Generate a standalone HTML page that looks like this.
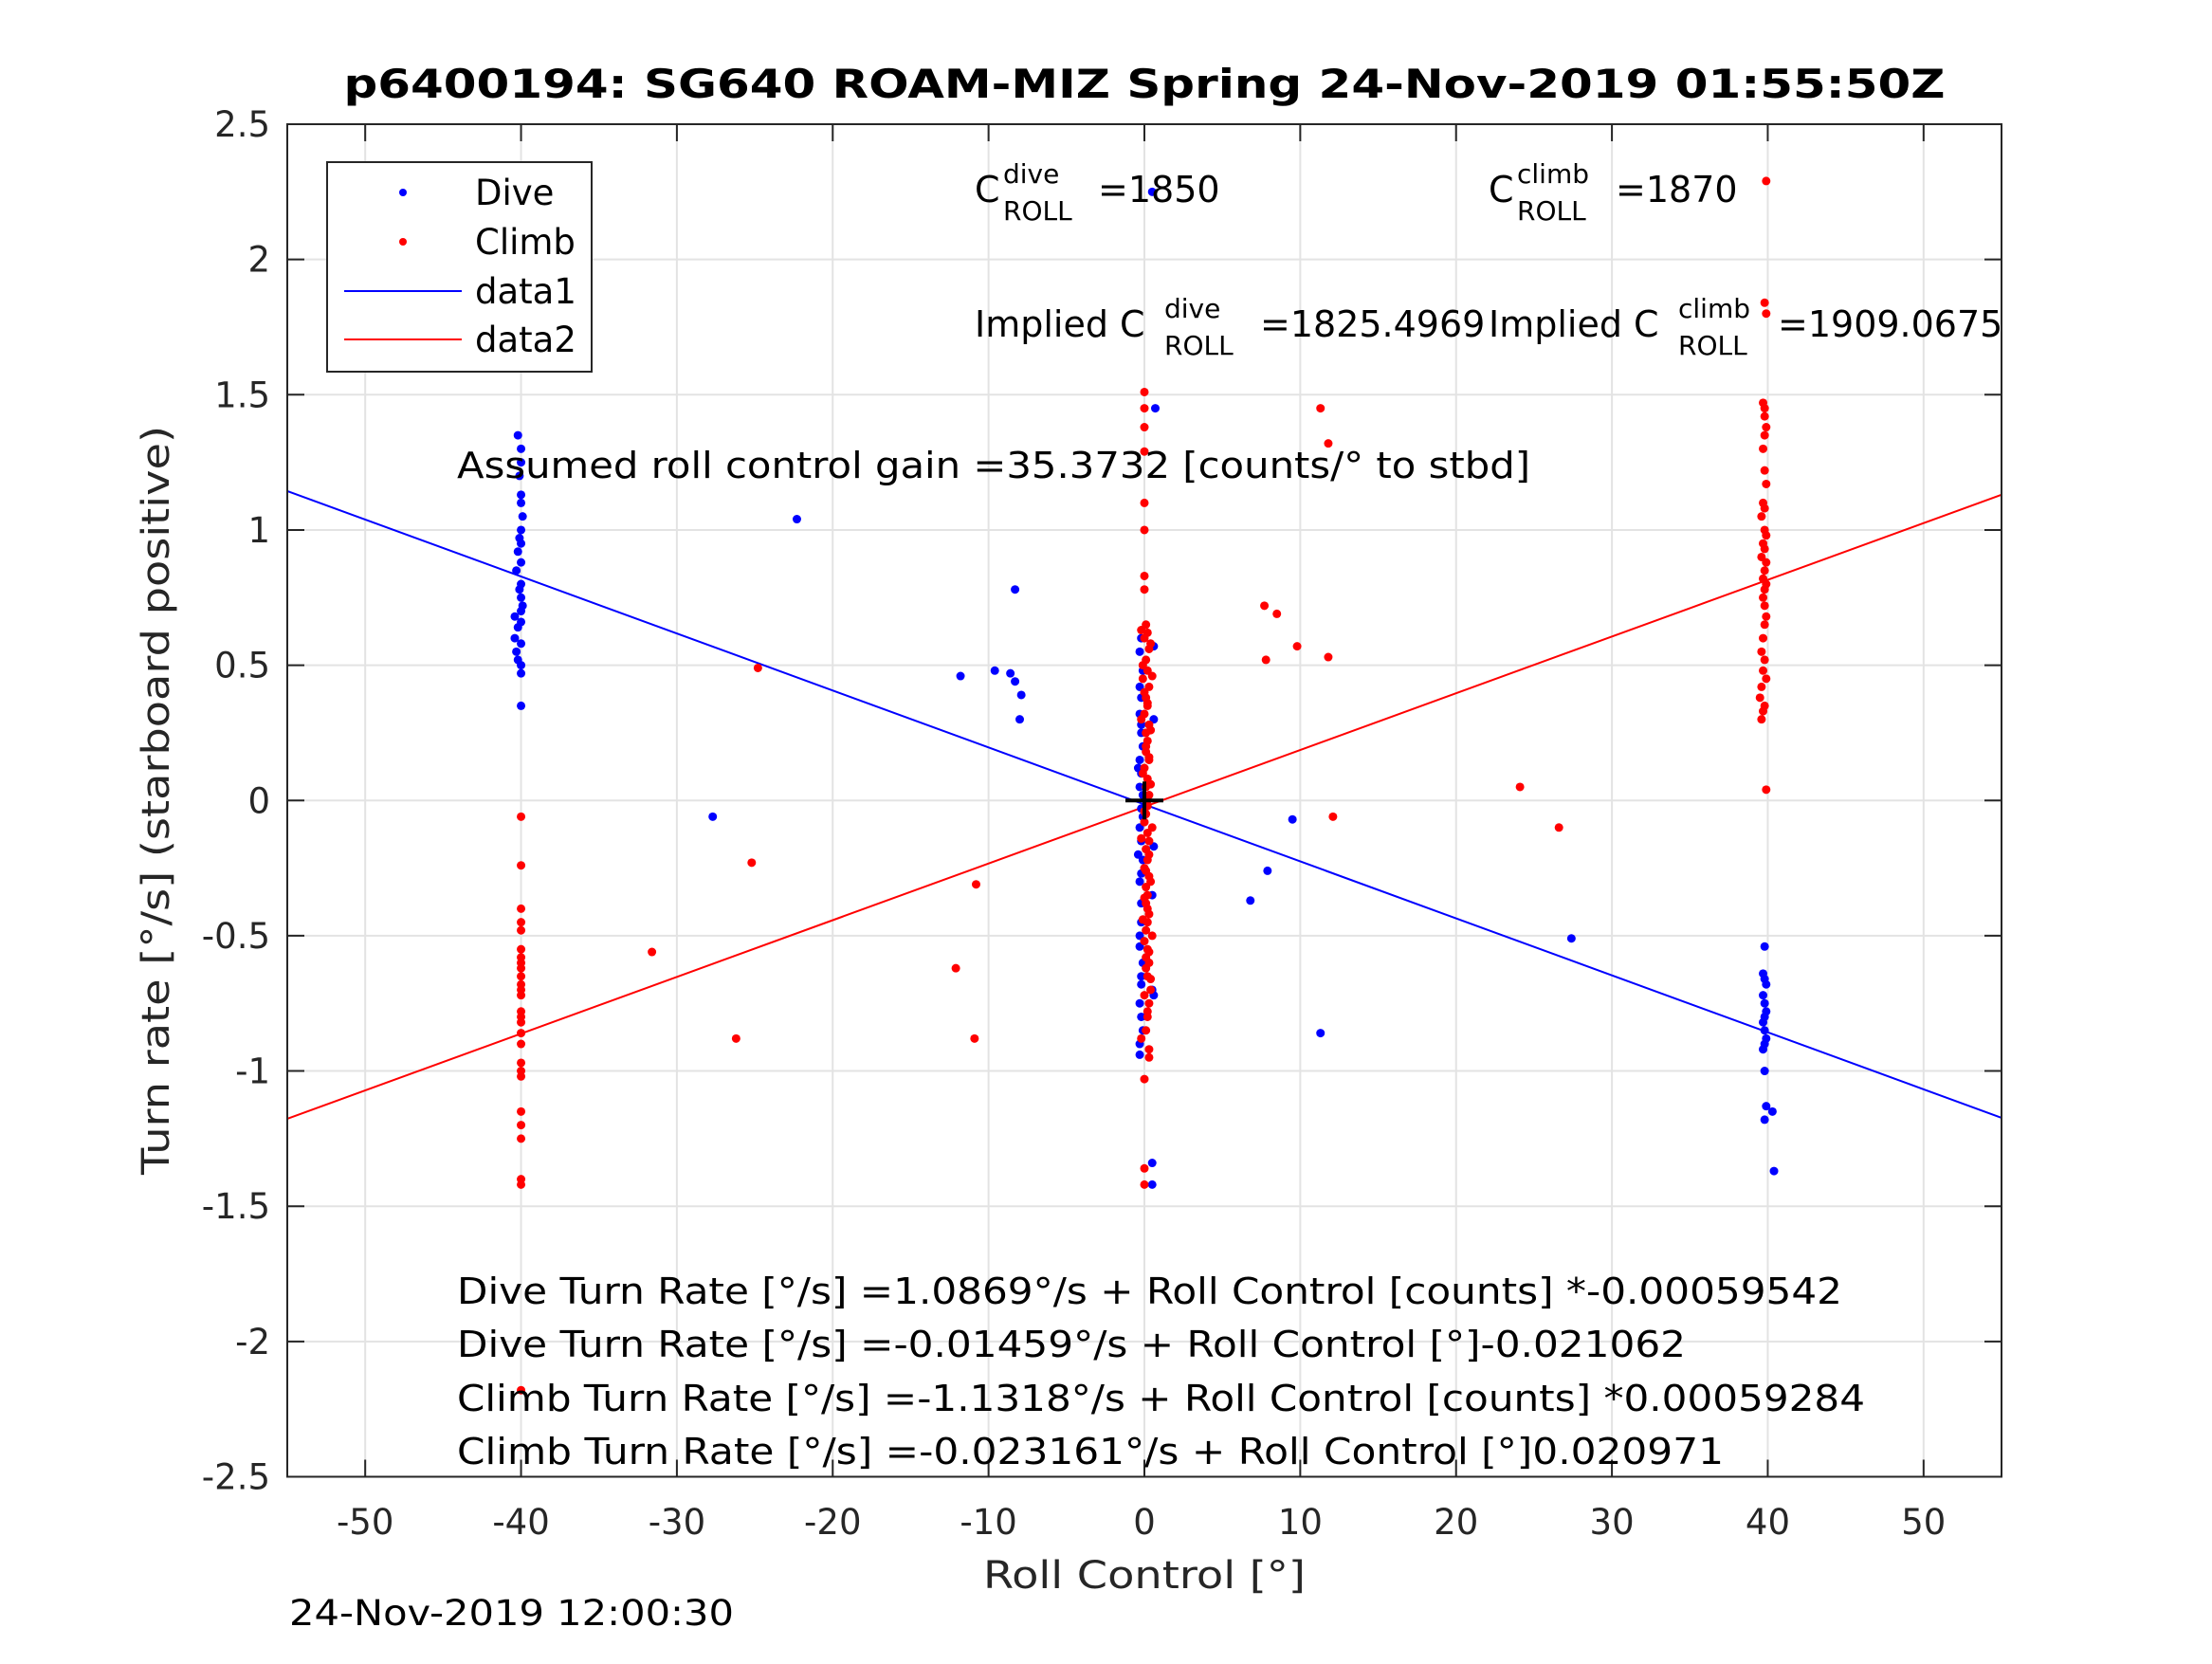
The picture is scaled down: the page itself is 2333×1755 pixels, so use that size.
<!DOCTYPE html>
<html><head><meta charset="utf-8"><style>
html,body{margin:0;padding:0;background:#fff;}
svg text{font-family:"DejaVu Sans","Liberation Sans",sans-serif;}
</style></head><body>
<svg id="chart" width="2333" height="1750" viewBox="0 0 2333 1750" xmlns="http://www.w3.org/2000/svg">
<rect width="2333" height="1750" fill="#fff"/>
<g id="grid"></g>
<g id="lines"></g>
<g id="points"></g>
<g id="axes"></g>
<text x="1207" y="103" text-anchor="middle" font-size="42" font-weight="bold" textLength="1689" lengthAdjust="spacingAndGlyphs">p6400194: SG640 ROAM-MIZ Spring 24-Nov-2019 01:55:50Z</text>
<text x="1207" y="1675" text-anchor="middle" font-size="40" fill="#262626" textLength="340" lengthAdjust="spacingAndGlyphs">Roll Control [°]</text>
<text transform="translate(178,844) rotate(-90)" text-anchor="middle" font-size="40" fill="#262626" textLength="790" lengthAdjust="spacingAndGlyphs">Turn rate [°/s] (starboard positive)</text>
<text x="305" y="1714" font-size="37" textLength="469" lengthAdjust="spacingAndGlyphs">24-Nov-2019 12:00:30</text>
<text x="1028" y="213" font-size="38">C<tspan x="1058" y="193" font-size="28">dive</tspan><tspan x="1058" y="232" font-size="28">ROLL</tspan><tspan x="1158" y="213">=1850</tspan></text>
<text x="1570" y="213" font-size="38">C<tspan x="1600" y="193" font-size="28">climb</tspan><tspan x="1600" y="232" font-size="28">ROLL</tspan><tspan x="1704" y="213">=1870</tspan></text>
<text x="1028" y="355" font-size="38">Implied C<tspan x="1228" y="335" font-size="28">dive</tspan><tspan x="1228" y="374" font-size="28">ROLL</tspan><tspan x="1329" y="355">=1825.4969</tspan></text>
<text x="1570" y="355" font-size="38">Implied C<tspan x="1770" y="335" font-size="28">climb</tspan><tspan x="1770" y="374" font-size="28">ROLL</tspan><tspan x="1875" y="355">=1909.0675</tspan></text>
<text x="482" y="504" font-size="38" textLength="1132" lengthAdjust="spacingAndGlyphs">Assumed roll control gain =35.3732 [counts/° to stbd]</text>
<text x="482" y="1375" font-size="38" textLength="1461" lengthAdjust="spacingAndGlyphs">Dive Turn Rate [°/s] =1.0869°/s + Roll Control [counts] *-0.00059542</text>
<text x="482" y="1431" font-size="38" textLength="1296" lengthAdjust="spacingAndGlyphs">Dive Turn Rate [°/s] =-0.01459°/s + Roll Control [°]-0.021062</text>
<text x="482" y="1488" font-size="38" textLength="1485" lengthAdjust="spacingAndGlyphs">Climb Turn Rate [°/s] =-1.1318°/s + Roll Control [counts] *0.00059284</text>
<text x="482" y="1544" font-size="38" textLength="1336" lengthAdjust="spacingAndGlyphs">Climb Turn Rate [°/s] =-0.023161°/s + Roll Control [°]0.020971</text>
<g>
<rect x="345" y="171" width="279" height="221" fill="#fff" stroke="#262626" stroke-width="2"/>
<circle cx="425" cy="203" r="4" fill="#0000ff"/>
<text x="501" y="216" font-size="37">Dive</text>
<circle cx="425" cy="255" r="4" fill="#ff0000"/>
<text x="501" y="268" font-size="37">Climb</text>
<line x1="363" y1="307" x2="487" y2="307" stroke="#0000ff" stroke-width="2"/>
<text x="501" y="320" font-size="37">data1</text>
<line x1="363" y1="358" x2="487" y2="358" stroke="#ff0000" stroke-width="2"/>
<text x="501" y="371" font-size="37">data2</text>
</g>
</svg>
<script>
const xTicks = [-50,-40,-30,-20,-10,0,10,20,30,40,50];
const yTicks = [2.5,2,1.5,1,0.5,0,-0.5,-1,-1.5,-2,-2.5];
const yTickLabels = ["2.5","2","1.5","1","0.5","0","-0.5","-1","-1.5","-2","-2.5"];
const xDomain = [-55,55];
const yDomain = [-2.5,2.5];
const diveFit = [-0.01459,-0.021062];
const climbFit = [-0.023161,0.020971];

const diveXa = [-40.2,-40,-40,-40.1,-40,-40,-39.9,-40,-40.1,-40,-40.2,-40,-40.3,-40,-40.1,-40,-39.9,-40,-40.4,-40,-40.2,-40.4,-40,-40.3,-40.2,-40,-40,-40];
const diveYa = [1.35,1.3,1.25,1.2,1.13,1.1,1.05,1.0,0.97,0.95,0.92,0.88,0.85,0.8,0.78,0.75,0.72,0.7,0.68,0.66,0.64,0.6,0.58,0.55,0.52,0.5,0.47,0.35];
const diveXb = [39.8,39.7,39.8,39.9,39.7,39.8,39.9,39.8,39.7,39.8,39.9,39.8,39.7,39.8,39.9,39.8,40.3,40.4];
const diveYb = [-0.54,-0.64,-0.66,-0.68,-0.72,-0.75,-0.78,-0.8,-0.82,-0.85,-0.88,-0.9,-0.92,-1.0,-1.13,-1.18,-1.15,-1.37];
const diveXc = [-22.3,-27.7,-11.8,-9.6,-8.6,-8.3,-8.3,-7.9,-8,6.8,7.9,9.5,11.3,27.4,0.5,0.7,0.5,0.5,0.5,0.6,0.6,0.6,0.6];
const diveYc = [1.04,-0.06,0.46,0.48,0.47,0.78,0.44,0.39,0.3,-0.37,-0.26,-0.07,-0.86,-0.51,2.25,1.45,-1.34,-1.42,-0.7,0.57,0.3,-0.17,-0.72];
const diveXd = [-0.2,-0.3,-0.1,-0.2,-0.3,-0.2,-0.1,-0.3,-0.2,-0.3,-0.1,-0.2,-0.3,-0.2,-0.1,-0.3,-0.2,-0.2,-0.3,-0.1,-0.2,-0.3,-0.2,-0.3,0.5,-0.4,-0.2,-0.3,-0.1,-0.4,-0.2,-0.3,-0.2,-0.1,-0.3];
const diveYd = [0.6,0.55,0.48,0.38,0.32,0.25,0.2,0.15,0.1,0.05,0.02,-0.03,-0.1,-0.15,-0.22,-0.3,-0.38,-0.45,-0.54,-0.6,-0.65,-0.75,-0.8,-0.94,-0.35,0.12,0.28,0.42,-0.06,-0.2,-0.27,-0.5,-0.68,-0.85,-0.9];
const diveX = diveXa.concat(diveXb, diveXc, diveXd);
const diveY = diveYa.concat(diveYb, diveYc, diveYd);

const climbXa = [-40,-40,-40,-40,-40,-40,-40,-40,-40,-40,-40,-40,-40,-40,-40,-40,-40,-40,-40,-40,-40,-40,-40,-40,-40,-40,-40];
const climbYa = [-0.06,-0.24,-0.4,-0.45,-0.48,-0.55,-0.58,-0.6,-0.62,-0.65,-0.68,-0.7,-0.72,-0.78,-0.8,-0.82,-0.86,-0.9,-0.97,-1.0,-1.02,-1.15,-1.2,-1.25,-1.4,-1.42,-2.18];
const climbXb = [39.9,39.8,39.9,39.7,39.8,39.8,39.9,39.8,39.7,39.8,39.9,39.7,39.8,39.6,39.8,39.9,39.7,39.8,39.6,39.9,39.8,39.7,39.9,39.8,39.7,39.8,39.9,39.8,39.7,39.6,39.8,39.7,39.9,39.6,39.5,39.8,39.7,39.6,39.9];
const climbYb = [2.29,1.84,1.8,1.47,1.45,1.42,1.38,1.35,1.3,1.22,1.17,1.1,1.08,1.05,1.0,0.98,0.95,0.93,0.9,0.88,0.85,0.82,0.8,0.78,0.75,0.72,0.68,0.65,0.6,0.55,0.52,0.48,0.45,0.42,0.38,0.35,0.33,0.3,0.04];
const climbXc = [-24.8,-25.2,-31.6,-26.2,-10.8,-12.1,-10.9,7.7,8.5,7.8,9.8,11.3,11.8,11.8,12.1,24.1,26.6];
const climbYc = [0.49,-0.23,-0.56,-0.88,-0.31,-0.62,-0.88,0.72,0.69,0.52,0.57,1.45,1.32,0.53,-0.06,0.05,-0.1];
const climbXd = [0,0,0,0,0,0,0,0,0,0,0];
const climbYd = [1.51,1.45,1.38,1.29,1.1,1.0,0.83,0.78,-1.03,-1.36,-1.42];
const climbXe = [0.1,0.2,0,0.3,0.1,0.2,-0.1,0.3,0.1,0.2,0,0.3,0.1,0.2,0.1,0.3,0,0.2,0.1,0.3,0.2,0.1,0,0.2,0.3,0.1,0.2,0,0.3,0.1,0.2,0.1,0.3,0.2,0.1,0,0.2,0.3,0.1,0.2,0.4,0.3,0.2,0.1,0.3,
 -0.2,0.4,-0.1,0.5,0,0.2,-0.2,0.4,0.1,0.3,-0.1,0.4,0.2,0,0.5,-0.2,0.3,0.1,0.4,0,0.2,-0.1,0.5,0.3,0.1,0.4,0,0.2,-0.2,0.3];
const climbYe = [0.65,0.62,0.6,0.56,0.52,0.48,0.45,0.42,0.38,0.35,0.32,0.28,0.25,0.22,0.18,0.15,0.12,0.08,0.05,0.02,-0.02,-0.05,-0.08,-0.12,-0.15,-0.18,-0.22,-0.25,-0.28,-0.32,-0.35,-0.38,-0.42,-0.45,-0.48,-0.52,-0.55,-0.6,-0.62,-0.65,-0.7,-0.75,-0.8,-0.85,-0.95,
 0.63,0.58,0.5,0.46,0.4,0.36,0.3,0.26,0.2,0.16,0.1,0.06,0.0,-0.04,-0.1,-0.14,-0.2,-0.26,-0.3,-0.36,-0.4,-0.44,-0.5,-0.56,-0.58,-0.66,-0.72,-0.78,-0.88,-0.92];
const climbX = climbXa.concat(climbXb, climbXc, climbXd, climbXe);
const climbY = climbYa.concat(climbYb, climbYc, climbYd, climbYe);

const L=303,R=2111,T=131,B=1557.5;
function sx(v){return L+(v-xDomain[0])/(xDomain[1]-xDomain[0])*(R-L);}
function sy(v){return B-(v-yDomain[0])/(yDomain[1]-yDomain[0])*(B-T);}
const NS="http://www.w3.org/2000/svg";
function mk(tag,attrs,parent){const e=document.createElementNS(NS,tag);for(const k in attrs)e.setAttribute(k,attrs[k]);parent.appendChild(e);return e;}
const grid=document.getElementById('grid'),axes=document.getElementById('axes'),lines=document.getElementById('lines'),pts=document.getElementById('points');
xTicks.forEach(t=>{
  const g=mk('line',{x1:sx(t),x2:sx(t),y1:T,y2:B,stroke:'#e3e3e3','stroke-width':2},grid);
  
  
  mk('line',{x1:sx(t),x2:sx(t),y1:B,y2:B-18,stroke:'#262626','stroke-width':2},axes);
  mk('line',{x1:sx(t),x2:sx(t),y1:T,y2:T+18,stroke:'#262626','stroke-width':2},axes);
  const tx=mk('text',{x:sx(t),y:1618,'text-anchor':'middle','font-size':37,fill:'#262626'},axes);
  
  
  tx.textContent=String(t);
});
yTicks.forEach((t,i)=>{
  const g=mk('line',{x1:L,x2:R,y1:sy(t),y2:sy(t),stroke:'#e3e3e3','stroke-width':2},grid);
  
  
  mk('line',{x1:L,x2:L+18,y1:sy(t),y2:sy(t),stroke:'#262626','stroke-width':2},axes);
  mk('line',{x1:R,x2:R-18,y1:sy(t),y2:sy(t),stroke:'#262626','stroke-width':2},axes);
  const tx=mk('text',{x:285,y:sy(t)+13,'text-anchor':'end','font-size':37,fill:'#262626'},axes);
  
  
  tx.textContent=yTickLabels[i];
});
const box=mk('rect',{x:L,y:T,width:R-L,height:B-T,fill:'none',stroke:'#262626','stroke-width':2},axes);


function fitLine(f,color,name){
  const l=mk('line',{x1:sx(xDomain[0]),y1:sy(f[0]+f[1]*xDomain[0]),x2:sx(xDomain[1]),y2:sy(f[0]+f[1]*xDomain[1]),stroke:color,'stroke-width':2},lines);
  
  
}
fitLine(diveFit,'#0000ff','dive-fit-line');
fitLine(climbFit,'#ff0000','climb-fit-line');
diveX.forEach((x,i)=>{
  const c=mk('circle',{cx:sx(x),cy:sy(diveY[i]),r:4.5,fill:'#0000ff'},pts);
  
  
});
climbX.forEach((x,i)=>{
  const c=mk('circle',{cx:sx(x),cy:sy(climbY[i]),r:4.5,fill:'#ff0000'},pts);
  
  
});
const ph=mk('path',{d:`M${sx(0)-20},${sy(0)}h40M${sx(0)},${sy(0)-20}v40`,stroke:'#000','stroke-width':4},pts);


</script>
</body></html>
